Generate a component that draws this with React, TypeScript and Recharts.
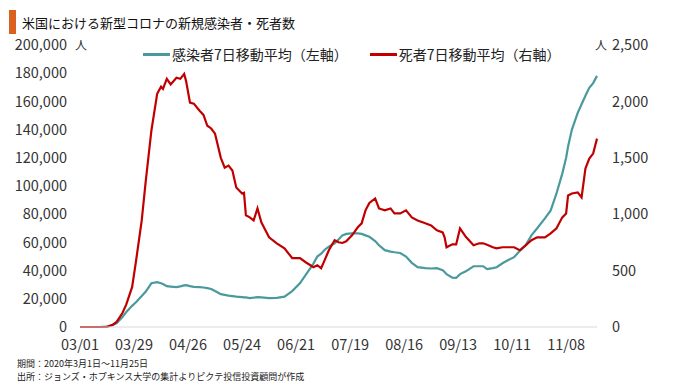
import { LineChart, Line, XAxis, YAxis, Legend } from "recharts";

const FONT = '"Noto Sans CJK JP", "Noto Sans", sans-serif';

// days since 03/01
const days = [
  0, 10, 14, 17, 19, 22, 24, 27, 29, 32, 34, 37, 40, 42, 43, 45, 47, 50, 52, 54,
  55, 57, 59, 62, 64, 66, 68, 70, 73, 75, 77, 79, 81, 84, 85, 86, 88, 90, 92, 94,
  98, 102, 106, 110, 114, 117, 121, 123, 125, 127, 129, 132, 134, 136, 138, 141, 144, 146, 148, 150,
  153, 155, 158, 161, 163, 166, 169, 172, 175, 179, 182, 185, 188, 189, 190, 193, 195, 197, 200, 204,
  207, 209, 211, 214, 216, 219, 222, 225, 228, 231, 234, 237, 241, 244, 247, 250, 252, 253, 255, 258,
  260, 262, 264, 266, 268,
];

const cases = [
  0, 0, 200, 1500, 2800, 7000, 10600, 15000, 17500, 22000, 25000, 31000, 31800, 31000, 30500, 29000, 28700, 28300, 28800, 29500,
  29700, 29000, 28500, 28300, 28000, 27600, 27000, 25500, 23300, 22800, 22300, 21900, 21500, 21200, 21000, 21000, 20500, 20800, 21200, 21000,
  20500, 20700, 21500, 25500, 31000, 37000, 45000, 50000, 52000, 55000, 57000, 59400, 62000, 65000, 66000, 66400, 66400, 66000, 65000, 64000,
  61000, 58000, 54500, 53500, 53000, 52500, 50000, 45500, 42400, 41700, 41500, 41700, 40300, 39000, 37500, 35000, 34800, 37500, 39500, 43100,
  43100, 43100, 41000, 41800, 42400, 45200, 47500, 49500, 54000, 58000, 65000, 70000, 77000, 82700, 94700, 108800, 120000, 128000, 140000, 151900,
  158000, 164000, 169600, 173000, 178100,
];

const deaths = [
  0, 0, 2, 20, 45, 124, 200, 353, 580, 945, 1280, 1740, 2067, 2130, 2110, 2200, 2150, 2210, 2200, 2244,
  2180, 1990, 1980, 1917, 1880, 1784, 1760, 1714, 1500, 1413, 1431, 1387, 1237, 1184, 1190, 990, 972, 945, 1051, 928,
  795, 742, 698, 610, 610, 574, 530, 548, 521, 600, 680, 769, 751, 745, 760, 813, 884, 919, 1034, 1100,
  1140, 1051, 1034, 1051, 1007, 1007, 1034, 972, 945, 919, 901, 857, 839, 795, 707, 733, 733, 875, 800, 724,
  742, 742, 730, 707, 698, 707, 707, 707, 680, 724, 769, 795, 795, 830, 875, 972, 1007, 1166, 1184, 1193,
  1149, 1405, 1493, 1537, 1670,
];

const tickDays = [0, 28, 56, 84, 112, 140, 168, 196, 224, 252];
const tickLabels = ["03/01", "03/29", "04/26", "05/24", "06/21", "07/19", "08/16", "09/13", "10/11", "11/08"];
const leftTicks = [0, 20000, 40000, 60000, 80000, 100000, 120000, 140000, 160000, 180000, 200000];
const rightTicks = [0, 500, 1000, 1500, 2000, 2500];

const data = days.map((d, i) => ({ day: d, cases: cases[i], deaths: deaths[i] }));

const fmt = (v: number) => v.toLocaleString("en-US");

const renderLegend = (props: any) => {
  const { payload } = props;
  return (
    <div style={{ display: "flex", fontFamily: FONT, fontSize: 14, color: "#222", lineHeight: "19px" }}>
      {payload.map((entry: any) => (
        <div key={entry.value} style={{ display: "flex", alignItems: "center", marginRight: 22 }}>
          <span style={{ display: "inline-block", width: 27, height: 2.5, background: entry.color, marginRight: 2 }} />
          <span>{entry.value}</span>
        </div>
      ))}
    </div>
  );
};

export default function App() {
  const tickStyle = { fontFamily: FONT, fontSize: 14.5, fill: "#333" };
  return (
    <div style={{ position: "absolute", left: 0, top: 0, width: 680, height: 385, background: "#fff", fontFamily: FONT }}>
      <div style={{ position: "absolute", left: 9, top: 10, width: 7, height: 24, background: "#D9601F" }} />
      <div style={{ position: "absolute", left: 22, top: 13, fontSize: 13, lineHeight: "20px", color: "#111" }}>
        米国における新型コロナの新規感染者・死者数
      </div>
      <LineChart width={680} height={385} data={data} margin={{ top: 45, right: 0, left: 0, bottom: 28 }}>
        <XAxis
          dataKey="day"
          type="number"
          domain={[0, 268]}
          ticks={tickDays}
          interval={0}
          tickFormatter={(v: number) => tickLabels[tickDays.indexOf(v)]}
          tick={tickStyle}
          tickLine={false}
          tickSize={0}
          tickMargin={13}
          axisLine={{ stroke: "#d9d9d9" }}
          height={30}
        />
        <YAxis
          yAxisId="left"
          orientation="left"
          domain={[0, 200000]}
          ticks={leftTicks}
          interval={0}
          tickFormatter={fmt}
          tick={tickStyle}
          tickLine={false}
          tickSize={0}
          tickMargin={13}
          axisLine={false}
          width={80}
        />
        <YAxis
          yAxisId="right"
          orientation="right"
          domain={[0, 2500]}
          ticks={rightTicks}
          interval={0}
          tickFormatter={fmt}
          tick={tickStyle}
          tickLine={false}
          tickSize={0}
          tickMargin={15}
          axisLine={false}
          width={83}
        />
        <Legend
          layout="horizontal"
          verticalAlign="middle"
          align="center"
          content={renderLegend}
          wrapperStyle={{ top: 45, left: 143, width: "auto" }}
        />
        <Line
          yAxisId="left"
          type="linear"
          dataKey="cases"
          name="感染者7日移動平均（左軸）"
          stroke="#4A9A9D"
          strokeWidth={2.2}
          dot={false}
          isAnimationActive={false}
        />
        <Line
          yAxisId="right"
          type="linear"
          dataKey="deaths"
          name="死者7日移動平均（右軸）"
          stroke="#C00000"
          strokeWidth={2.2}
          dot={false}
          isAnimationActive={false}
        />
      </LineChart>
      <div style={{ position: "absolute", left: 75, top: 37, fontSize: 12, lineHeight: "16px", color: "#333" }}>人</div>
      <div style={{ position: "absolute", left: 595, top: 37, fontSize: 12, lineHeight: "16px", color: "#333" }}>人</div>
      <div style={{ position: "absolute", left: 17, top: 357, fontSize: 9, lineHeight: "13px", color: "#222" }}>
        <div>期間：2020年3月1日～11月25日</div>
        <div>出所：ジョンズ・ホプキンス大学の集計よりピクテ投信投資顧問が作成</div>
      </div>
    </div>
  );
}
